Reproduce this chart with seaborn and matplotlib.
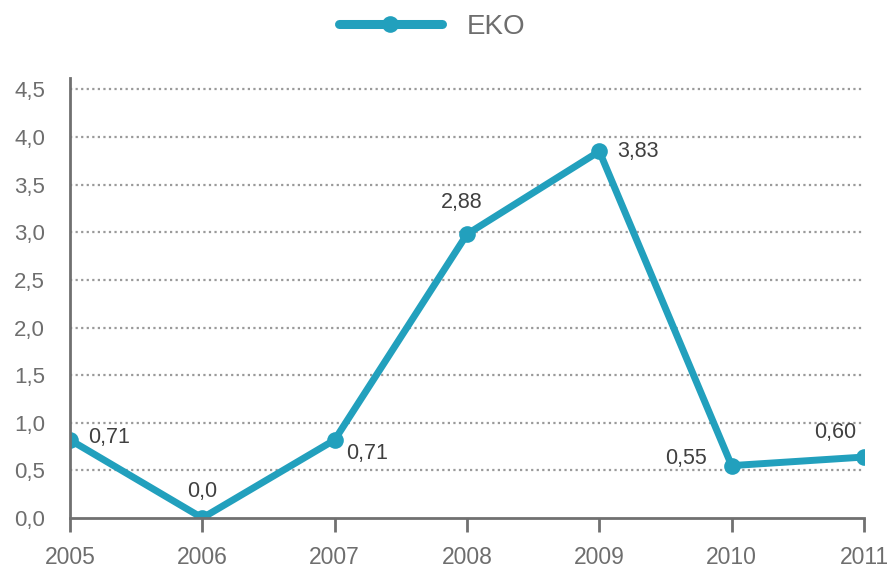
"""
EKO yearly values 2005-2011, line chart with point labels.
Writes out.png (890x573).
"""
import matplotlib
matplotlib.use("Agg")
import matplotlib.pyplot as plt
import pandas as pd
import seaborn as sns

# ----------------------------------------------------------------------
# Data
# ----------------------------------------------------------------------
years = [2005, 2006, 2007, 2008, 2009, 2010, 2011]
values = [0.82, 0.0, 0.82, 2.98, 3.85, 0.55, 0.64]      # plotted positions
point_labels = ["0,71", "0,0", "0,71", "2,88", "3,83", "0,55", "0,60"]
series_name = "EKO"
y_ticks = [0.0, 0.5, 1.0, 1.5, 2.0, 2.5, 3.0, 3.5, 4.0, 4.5]

LINE_COLOR = "#22a0bd"
AXIS_COLOR = "#707070"
TEXT_COLOR = "#6e6e6e"
LABEL_COLOR = "#404040"

# label offsets in points (dx, dy) and horizontal alignment per point
label_pos = [
    (13, 2, "left"),
    (0, 19, "center"),
    (8, -10, "left"),
    (-4, 23, "center"),
    (13, 0, "left"),
    (-18, 5, "right"),
    (-21, 18, "center"),
]

df = pd.DataFrame({"year": years, "value": values})

sns.set_theme(style="white")
plt.rcParams["font.family"] = ["Liberation Sans", "DejaVu Sans"]

fig = plt.figure(figsize=(8.9, 5.73), dpi=100)
ax = fig.add_axes([70 / 890, 55 / 573, 794 / 890, 440 / 573])

sns.lineplot(
    data=df, x="year", y="value", ax=ax, color=LINE_COLOR,
    linewidth=5, marker="o", markersize=12, markeredgewidth=0,
    label=series_name, legend=False,
)

# --- point labels ---
for x, y, txt, (dx, dy, ha) in zip(years, values, point_labels, label_pos):
    ax.annotate(txt, (x, y), xytext=(dx, dy), textcoords="offset points",
                ha=ha, va="center", fontsize=15.5, color=LABEL_COLOR)

# --- axes styling ---
ax.set_xlim(years[0], years[-1])
ax.set_ylim(0, 4.62)
ax.set_xticks(years)
ax.set_yticks(y_ticks)
ax.set_yticklabels([f"{v:.1f}".replace(".", ",") for v in y_ticks])
ax.set_xlabel("")
ax.set_ylabel("")

for t in y_ticks[1:]:
    ax.axhline(t, color="#9a9a9a", lw=1.6, ls=(0, (1, 1.5)), zorder=0)

for side in ("top", "right"):
    ax.spines[side].set_visible(False)
for side in ("left", "bottom"):
    ax.spines[side].set_color(AXIS_COLOR)
    ax.spines[side].set_linewidth(2)

ax.tick_params(axis="x", direction="out", length=10, width=2, bottom=True,
               color=AXIS_COLOR, labelsize=16.5, labelcolor=TEXT_COLOR, pad=10)
ax.tick_params(axis="y", length=0, labelsize=16, labelcolor=TEXT_COLOR, pad=18)

# --- legend at the top ---
handles, labels = ax.get_legend_handles_labels()
leg = fig.legend(handles, labels, loc="center left",
                 bbox_to_anchor=(314 / 890, 1 - 27 / 573),
                 frameon=False, fontsize=20, handlelength=3.7, handletextpad=0.9)
for t in leg.get_texts():
    t.set_color(TEXT_COLOR)
for h in leg.get_lines():
    h.set_linewidth(6.5)

fig.savefig("out.png", dpi=100)
